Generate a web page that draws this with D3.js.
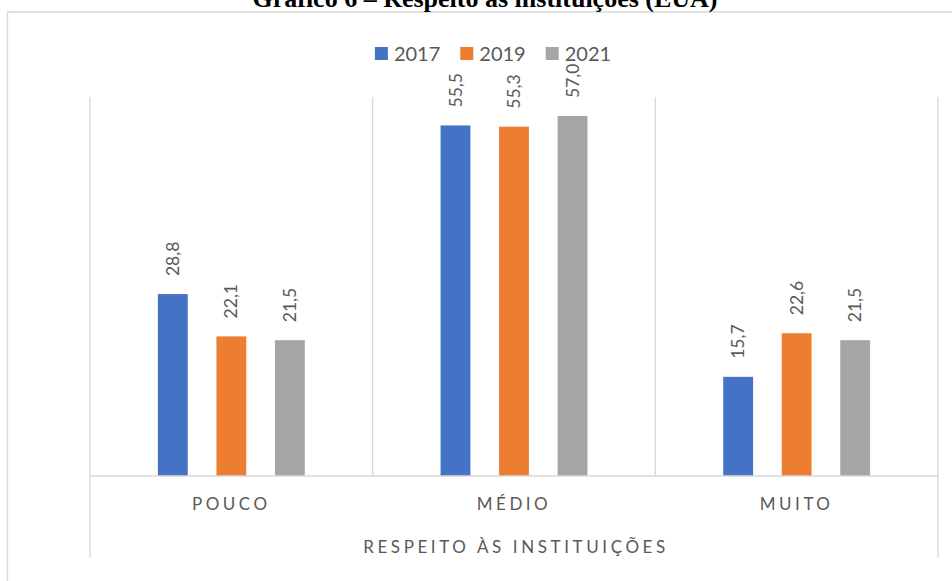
<!DOCTYPE html>
<html>
<head>
<meta charset="utf-8">
<title>Gráfico 6 – Respeito às instituições (EUA)</title>
<style>
  html, body { margin: 0; padding: 0; background: #fff; }
  svg { display: block; }
  .lbl { font-family: Lato, "Open Sans", sans-serif; fill: #595959; }
</style>
</head>
<body>
<svg id="chart" width="952" height="581"></svg>
<script src="https://cdnjs.cloudflare.com/ajax/libs/d3/7.8.5/d3.min.js"></script>
<script>
// data
var categories = ['POUCO', 'MÉDIO', 'MUITO'];
var series = ['2017', '2019', '2021'];
var colors = ['#4472C4', '#ED7D31', '#A5A5A5'];
var v2017 = [28.8, 55.5, 15.7];
var v2019 = [22.1, 55.3, 22.6];
var v2021 = [21.5, 57.0, 21.5];
var values = [v2017, v2019, v2021];
var title = 'Gráfico 6 – Respeito às instituições (EUA)';
var axisTitle = 'RESPEITO ÀS INSTITUIÇÕES';

var svg = d3.select('#chart');
var grid = '#D9D9D9';

// outer frame (top + left edges visible)
svg.append('path')
  .attr('d', 'M7.5,581 V12 H952')
  .attr('fill', 'none').attr('stroke', grid).attr('stroke-width', 1.3);

// title (cut at the top, as in the source page)
svg.append('text')
  .attr('x', 485).attr('y', 6.5)
  .attr('text-anchor', 'middle')
  .style('font-family', '"Liberation Serif", "Times New Roman", serif')
  .style('font-weight', 'bold').style('font-size', '26px')
  .attr('fill', '#000')
  .text(title);

var plotL = 90, plotR = 938, plotT = 97, plotB = 476;

var x = d3.scaleBand().domain(categories).range([plotL, plotR]).padding(0);
var xs = d3.scaleBand().domain(series).range([0, x.bandwidth()])
  .paddingInner(0.49).paddingOuter(1.16);
var y = d3.scaleLinear().domain([0, 60]).range([plotB, plotT]);

// category gridlines
var bounds = categories.map(function(c) { return x(c); }).concat([plotR]);
svg.append('g').selectAll('line')
  .data(bounds)
  .join('line')
  .attr('x1', function(d) { return d; }).attr('x2', function(d) { return d; })
  .attr('y1', plotT)
  .attr('y2', function(d, i) { return (i === 0 || i === bounds.length - 1) ? 558 : plotB; })
  .attr('stroke', grid).attr('stroke-width', 1.3);

// bars
var gBars = svg.append('g');
series.forEach(function(s, si) {
  var g = gBars.append('g');
  g.selectAll('rect')
    .data(values[si])
    .join('rect')
    .attr('x', function(d, i) { return x(categories[i]) + xs(s); })
    .attr('y', function(d) { return y(d); })
    .attr('width', xs.bandwidth())
    .attr('height', function(d) { return y(0) - y(d); })
    .attr('fill', colors[si]);
  g.selectAll('text')
    .data(values[si])
    .join('text')
    .attr('class', 'lbl')
    .attr('transform', function(d, i) {
      var cx = x(categories[i]) + xs(s) + xs.bandwidth() / 2;
      return 'translate(' + cx + ',' + (y(d) - 18) + ') rotate(-90)';
    })
    .attr('dy', '0.35em')
    .style('font-size', '17.5px')
    .text(function(d) { return d.toFixed(1).replace('.', ','); });
});

// x axis line
svg.append('line')
  .attr('x1', plotL).attr('x2', plotR)
  .attr('y1', plotB).attr('y2', plotB)
  .attr('stroke', grid).attr('stroke-width', 1.3);

// category labels
svg.append('g').selectAll('text')
  .data(categories)
  .join('text')
  .attr('class', 'lbl')
  .attr('x', function(d) { return x(d) + x.bandwidth() / 2; })
  .attr('y', 510)
  .attr('text-anchor', 'middle')
  .style('font-size', '17px')
  .style('letter-spacing', '3.5px')
  .text(function(d) { return d; });

svg.append('text')
  .attr('class', 'lbl')
  .attr('x', 516).attr('y', 553)
  .attr('text-anchor', 'middle')
  .style('font-size', '17px')
  .style('letter-spacing', '3.6px')
  .text(axisTitle);

// legend
var leg = svg.append('g');
var items = leg.selectAll('g').data(series).join('g');
items.append('rect')
  .attr('width', 13).attr('height', 13)
  .attr('y', 47)
  .attr('fill', function(d, i) { return colors[i]; });
items.append('text')
  .attr('class', 'lbl')
  .attr('x', 19).attr('y', 61)
  .style('font-size', '20px')
  .text(function(d) { return d; });
var cur = 0;
items.each(function() {
  var w = this.getBBox().width;
  d3.select(this).attr('transform', 'translate(' + cur + ',0)');
  cur += w + 20;
});
var legW = cur - 20;
leg.attr('transform', 'translate(' + (493 - legW / 2) + ',0)');
</script>
</body>
</html>
